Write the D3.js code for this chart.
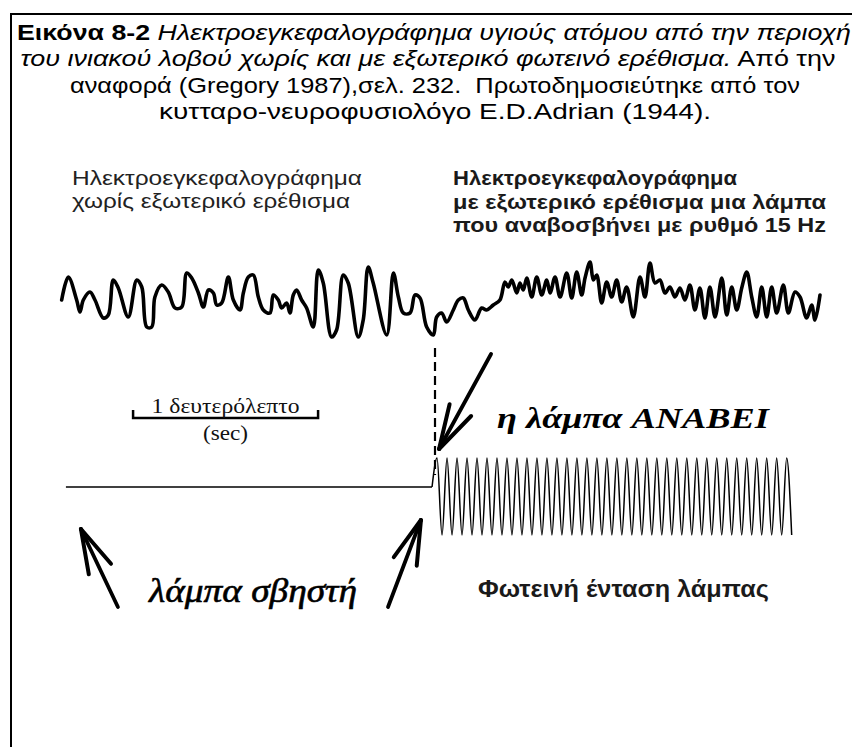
<!DOCTYPE html>
<html>
<head>
<meta charset="utf-8">
<script src="https://cdn.jsdelivr.net/npm/d3@7"></script>
<style>
body { margin: 0; background: #fff; }
svg { display: block; }
text { white-space: pre; }
</style>
</head>
<body>
<div id="chart"></div>
<script>
var width = 852, height = 747;

// caption, one array per line: [text, style]
var captionLine1 = [["Εικόνα 8-2", "bold"], [" Ηλεκτροεγκεφαλογράφημα υγιούς ατόμου από την περιοχή", "italic"]];
var captionLine2 = [["του ινιακού λοβού χωρίς και με εξωτερικό φωτεινό ερέθισμα.", "italic"], [" Από την", "normal"]];
var captionLine3 = [["αναφορά (Gregory 1987),σελ. 232.  Πρωτοδημοσιεύτηκε από τον", "normal"]];
var captionLine4 = [["κυτταρο-νευροφυσιολόγο E.D.Adrian (1944).", "normal"]];

var leftLabel = ["Ηλεκτροεγκεφαλογράφημα", "χωρίς εξωτερικό ερέθισμα"];
var rightLabel = ["Ηλεκτροεγκεφαλογράφημα", "με εξωτερικό ερέθισμα μια λάμπα", "που αναβοσβήνει με ρυθμό 15 Hz"];

// EEG trace: time in s (0 = lamp on), amplitude (arbitrary units, up = positive)
var eegTime = [
  -2.018, -1.982, -1.937, -1.919, -1.901, -1.865, -1.838, -1.793, -1.766, -1.739,
  -1.712, -1.658, -1.612, -1.585, -1.558, -1.531, -1.514, -1.477, -1.442, -1.405,
  -1.369, -1.342, -1.315, -1.279, -1.252, -1.225, -1.198, -1.180, -1.153, -1.117,
  -1.090, -1.054, -1.036, -1.009, -0.982, -0.955, -0.928, -0.892, -0.874, -0.847,
  -0.829, -0.802, -0.784, -0.766, -0.748, -0.721, -0.694, -0.658, -0.631, -0.604,
  -0.559, -0.532, -0.496, -0.469, -0.415, -0.388, -0.361, -0.334, -0.261, -0.225,
  -0.198, -0.171, -0.135, -0.108, -0.081, -0.045, -0.009,
  0.009, 0.036, 0.063, 0.099, 0.126, 0.153, 0.180, 0.216, 0.252, 0.279,
  0.315, 0.351, 0.378, 0.396, 0.415, 0.442, 0.459, 0.477, 0.496, 0.523,
  0.550, 0.577, 0.604, 0.622, 0.649, 0.676, 0.712, 0.739, 0.766, 0.793,
  0.811, 0.838, 0.856, 0.874, 0.901, 0.928, 0.955, 0.982, 1.009, 1.036,
  1.072, 1.108, 1.135, 1.162, 1.189, 1.216, 1.243, 1.270, 1.297, 1.324,
  1.351, 1.378, 1.405, 1.432, 1.459, 1.486, 1.514, 1.550, 1.577, 1.604,
  1.631, 1.658, 1.685, 1.712, 1.739, 1.766, 1.793, 1.820, 1.847, 1.883,
  1.910, 1.946, 1.973, 2.009, 2.036, 2.054, 2.081
];
var eegValue = [
  0, 23, 0, -12, 0, 8, 0, -18, -15, 20,
  12, -17, 20, 13, -27, -27, 3, 15, 8, -8,
  -7, 27, 22, 7, -7, 10, 7, -5, -3, 23,
  0, -10, 7, 23, 25, 3, -10, -13, 5, 0,
  -8, -3, -13, 5, 10, 0, -8, -27, 30, 17,
  -37, -30, 25, 17, -37, -20, 33, 17, -35, 27,
  3, -13, -13, 5, 2, -27, -35,
  -17, -13, -22, -10, 0, 2, -10, -20, -8, -10,
  -5, 0, 18, 13, 20, 7, 17, 10, 22, 3,
  23, 5, 20, 7, 23, 3, 27, 2, 28, 5,
  22, 38, 20, 25, -3, 18, 3, 20, -2, 13,
  -17, 23, 3, 37, 17, 20, 7, 13, 3, 12,
  0, 15, -10, 12, -18, 13, -17, 22, -15, 13,
  -10, 12, 28, 3, -17, 13, -17, 13, -13, 15,
  -13, 8, 3, -18, -5, -20, 5
];

// lamp intensity: off segment, then 15 Hz flashes
var lampOffTime = [-1.995, -0.016];
var lampOffLevel = 0;
var lampPeakTime = [
  0.011, 0.065, 0.119, 0.173, 0.227, 0.281, 0.335, 0.389, 0.443, 0.497,
  0.551, 0.605, 0.659, 0.713, 0.767, 0.821, 0.875, 0.929, 0.983, 1.037,
  1.091, 1.145, 1.199, 1.253, 1.307, 1.361, 1.415, 1.469, 1.523, 1.577,
  1.631, 1.685, 1.739, 1.793, 1.847, 1.901
];
var lampTroughTime = [
  0.038, 0.092, 0.146, 0.200, 0.254, 0.308, 0.362, 0.416, 0.470, 0.524,
  0.578, 0.632, 0.686, 0.740, 0.794, 0.848, 0.902, 0.956, 1.010, 1.064,
  1.118, 1.172, 1.226, 1.280, 1.334, 1.388, 1.442, 1.496, 1.550, 1.604,
  1.658, 1.712, 1.766, 1.820, 1.874, 1.928
];
var lampPeakLevel = 29, lampTroughLevel = -48;

// scale bar: 1 second
var scaleBarStart = -1.632, scaleBarLength = 1;
var scaleBarLabel = ["1 δευτερόλεπτο", "(sec)"];

// arrows [tipTime, tipLevel, tailTime, tailLevel] on the lamp axis
var arrowOn = [0.022, 38, 0.303, 133];
var arrowOffLeft = [-1.914, -42, -1.714, -120];
var arrowOffRight = [-0.076, -33, -0.254, -120];

var svgContainer = d3.select("#chart")
  .append("svg")
  .attr("width", width)
  .attr("height", height);

svgContainer.append("rect")
  .attr("width", width).attr("height", height).attr("fill", "#fff");

// frame (runs past the right and bottom edges)
svgContainer.append("path")
  .attr("d", "M11," + (height + 5) + " V14 H" + (width + 5))
  .attr("fill", "none")
  .attr("stroke", "#000")
  .attr("stroke-width", 2);

var xScale = d3.scaleLinear().domain([0, 1]).range([435, 620]);
var eegY = d3.scaleLinear().domain([-50, 50]).range([350, 250]);
var lampY = d3.scaleLinear().domain([-50, 50]).range([537, 437]);

var sans = "'Liberation Sans', Arial, sans-serif";
var serif = "'Liberation Serif', 'Times New Roman', serif";

// the scan is a bit stretched sideways, so texts get a fixed width
function addText(x, y, str, len, opts) {
  var t = svgContainer.append("text")
    .attr("x", x).attr("y", y)
    .attr("font-family", opts.family || sans)
    .attr("font-size", opts.size)
    .attr("font-weight", opts.weight || "normal")
    .attr("font-style", opts.style || "normal")
    .attr("text-anchor", opts.anchor || "start")
    .attr("fill", opts.fill || "#000")
    .text(str);
  if (len) t.attr("textLength", len).attr("lengthAdjust", "spacingAndGlyphs");
  return t;
}

// caption
var captionWidths = [834, 815, 730, 552];
var captionCenters = [434, 428, 435, 435];
[captionLine1, captionLine2, captionLine3, captionLine4].forEach(function(line, i) {
  var t = svgContainer.append("text")
    .attr("x", captionCenters[i])
    .attr("y", 40 + i * 26.3)
    .attr("text-anchor", "middle")
    .attr("font-family", sans)
    .attr("font-size", 22.8)
    .attr("fill", "#000")
    .attr("textLength", captionWidths[i])
    .attr("lengthAdjust", "spacingAndGlyphs");
  line.forEach(function(part) {
    t.append("tspan")
      .text(part[0])
      .attr("font-weight", part[1] == "bold" ? "bold" : "normal")
      .attr("font-style", part[1] == "italic" ? "italic" : "normal");
  });
});

// panel labels
var leftWidths = [290, 278];
leftLabel.forEach(function(s, i) {
  addText(72, 185 + i * 22.5, s, leftWidths[i], {size: 20.5, fill: "#222"});
});
var rightWidths = [284, 373, 373];
rightLabel.forEach(function(s, i) {
  addText(453, 185 + i * 23.5, s, rightWidths[i], {size: 20.5, weight: "bold", fill: "#1a1a1a"});
});

// EEG trace
var eegPoints = eegTime.map(function(t, i) { return [t, eegValue[i]]; });
var eegLine = d3.line()
  .x(function(d) { return xScale(d[0]); })
  .y(function(d) { return eegY(d[1]); })
  .curve(d3.curveCatmullRom.alpha(0.5));
svgContainer.append("path")
  .datum(eegPoints)
  .attr("d", eegLine)
  .attr("fill", "none")
  .attr("stroke", "#000")
  .attr("stroke-width", 3.6)
  .attr("stroke-linejoin", "round")
  .attr("stroke-linecap", "round");

// lamp trace
var lampLine = d3.line()
  .x(function(d) { return xScale(d[0]); })
  .y(function(d) { return lampY(d[1]); });
var offPoints = lampOffTime.map(function(t) { return [t, lampOffLevel]; });
svgContainer.append("path")
  .datum(offPoints)
  .attr("d", lampLine)
  .attr("fill", "none")
  .attr("stroke", "#000")
  .attr("stroke-width", 1.5);

var flashPoints = [[lampOffTime[1], lampOffLevel]];
lampPeakTime.forEach(function(t, i) {
  flashPoints.push([t, lampPeakLevel]);
  flashPoints.push([lampTroughTime[i], lampTroughLevel]);
});
svgContainer.append("path")
  .datum(flashPoints)
  .attr("d", lampLine.curve(d3.curveMonotoneX))
  .attr("fill", "none")
  .attr("stroke", "#000")
  .attr("stroke-width", 1.5);

// dashed onset marker
svgContainer.append("line")
  .attr("x1", xScale(0)).attr("x2", xScale(0))
  .attr("y1", eegY(-48)).attr("y2", lampY(12))
  .attr("stroke", "#000")
  .attr("stroke-width", 2.2)
  .attr("stroke-dasharray", "9,5");

// scale bar
var sb0 = xScale(scaleBarStart), sb1 = xScale(scaleBarStart + scaleBarLength);
svgContainer.append("path")
  .attr("d", "M" + sb0 + ",410 V418 H" + sb1 + " V410")
  .attr("fill", "none")
  .attr("stroke", "#000")
  .attr("stroke-width", 2.5);
addText((sb0 + sb1) / 2, 413, scaleBarLabel[0], 148, {family: serif, size: 22, anchor: "middle", fill: "#111"});
addText((sb0 + sb1) / 2, 440, scaleBarLabel[1], 45, {family: serif, size: 21, anchor: "middle", fill: "#111"});

// arrows
function drawArrow(a) {
  var tx = xScale(a[0]), ty = lampY(a[1]);
  var fx = xScale(a[2]), fy = lampY(a[3]);
  var ang = Math.atan2(fy - ty, fx - tx);
  var g = svgContainer.append("g")
    .attr("stroke", "#000")
    .attr("stroke-linecap", "round")
    .attr("fill", "none");
  g.append("line")
    .attr("x1", tx).attr("y1", ty).attr("x2", fx).attr("y2", fy)
    .attr("stroke-width", 3.8);
  [-0.27, 0.27].forEach(function(da) {
    g.append("line")
      .attr("x1", tx).attr("y1", ty)
      .attr("x2", tx + 46 * Math.cos(ang + da))
      .attr("y2", ty + 46 * Math.sin(ang + da))
      .attr("stroke-width", 4);
  });
}
drawArrow(arrowOn);
drawArrow(arrowOffLeft);
drawArrow(arrowOffRight);

addText(497, 428, "η λάμπα ANABEI", 272, {family: serif, size: 30, weight: "bold", style: "italic"});
addText(149, 602, "λάμπα σβηστή", 208, {family: serif, size: 33, style: "italic"})
  .attr("stroke", "#000").attr("stroke-width", 0.6);
addText(478, 597, "Φωτεινή ένταση λάμπας", 291, {size: 23, weight: "bold", fill: "#1a1a1a"});
</script>
</body>
</html>
